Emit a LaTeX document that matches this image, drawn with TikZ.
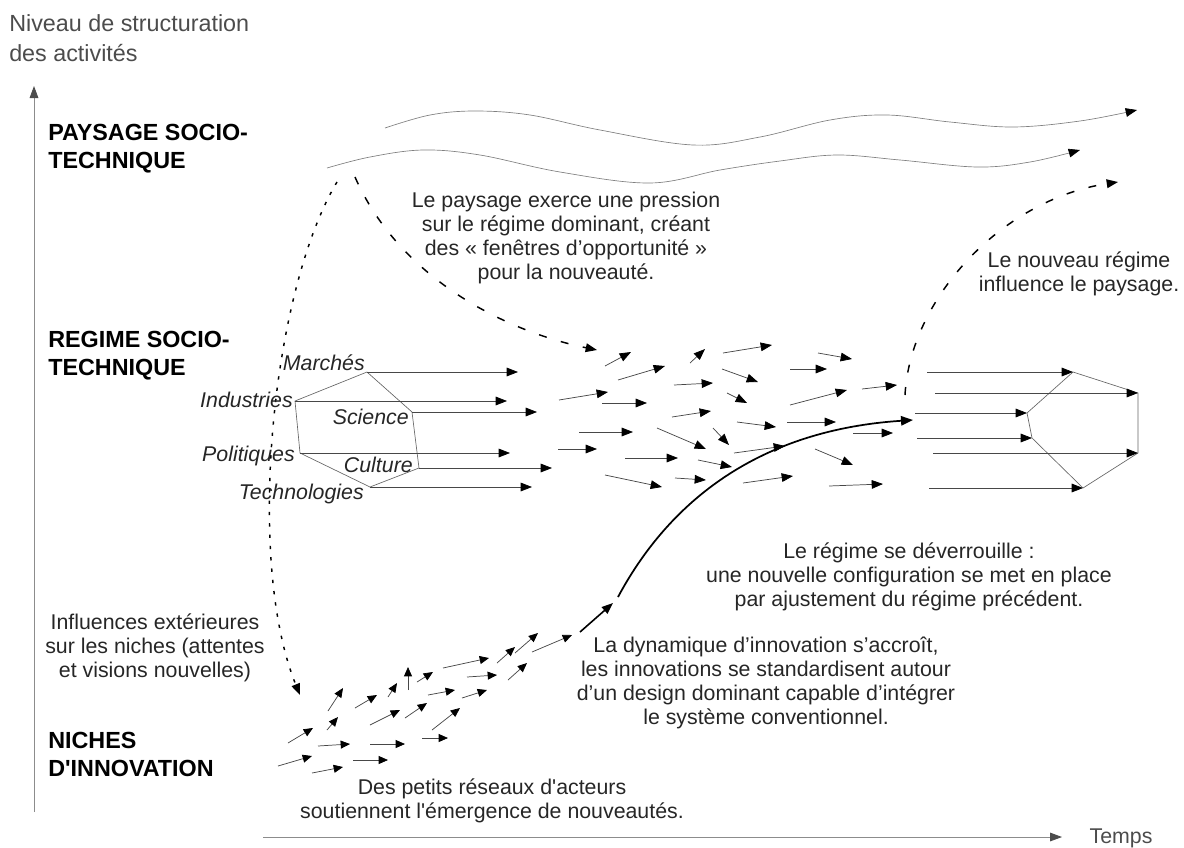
\documentclass[tikz,border=0pt]{standalone}
\usepackage{fontspec}
\setmainfont{Liberation Sans}
\usetikzlibrary{arrows.meta}
\begin{document}
\begin{tikzpicture}[x=0.75pt,y=-0.75pt,
  txt/.style={font=\fontsize{16}{17.8}\selectfont, text=black!85, align=center, inner sep=0pt},
  lvl/.style={font=\bfseries\fontsize{17.5}{21}\selectfont, align=left, anchor=west, inner sep=0pt},
  fac/.style={font=\itshape\fontsize{16}{18}\selectfont, text=black!85, inner sep=0pt},
  arr/.style={draw=black!72, line width=0.55pt, -{Triangle[length=8.5pt,width=6.5pt,color=black]}},
  sarr/.style={draw=black!72, line width=0.55pt, -{Triangle[length=7pt,width=6pt,color=black]}},
  hex/.style={draw=black!60, line width=0.5pt},
  wave/.style={draw=black!50, line width=0.5pt, -{Triangle[length=8.5pt,width=6.5pt,color=black]}},
  dsh/.style={draw=black, line width=1.1pt, dash pattern=on 6pt off 11pt, -{Triangle[length=8.5pt,width=6.5pt,color=black]}},
  dtt/.style={draw=black, line width=1.1pt, dash pattern=on 2.5pt off 6pt, -{Triangle[length=8.5pt,width=6.5pt,color=black]}},
  axis/.style={draw=black!45, line width=0.7pt, -{Triangle[length=9pt,width=6.5pt,color=black!70]}}
]
\useasboundingbox (0,0) rectangle (1184,847);

% axes
\coordinate (yb) at (34,812);
\coordinate (yt) at (34,86);
\draw[axis] (yb) -- (yt);
\coordinate (xl) at (263,837);
\coordinate (xr) at (1062,837);
\draw[axis] (xl) -- (xr);
\node[txt, text=black!70] (temps) at (1121,838) {Temps};
\node[font=\fontsize{17.5}{22.5}\selectfont, text=black!70, align=left, anchor=west, inner sep=0pt] (niv) at (9,38) {Niveau de structuration\\des activités};

% level labels
\node[lvl] (pay) at (48,149) {PAYSAGE SOCIO-\\TECHNIQUE};
\node[lvl] (reg) at (48,356) {REGIME SOCIO-\\TECHNIQUE};
\node[lvl] (nic) at (48,754) {NICHES\\D\textquotesingle INNOVATION};

% waves
\draw[wave] plot[smooth, tension=0.6] coordinates {(385,128) (430,115) (475,111) (530,115) (600,130) (693,145) (760,137) (830,120) (887,115) (950,122) (1013,127) (1080,121) (1137,110)};
\draw[wave] plot[smooth, tension=0.6] coordinates {(327,168) (370,157) (423,150) (480,155) (560,172) (650,183) (720,170) (780,161) (837,155) (900,160) (977,167) (1030,162) (1080,150)};

% texts
\node[txt] (t1) at (566,238) {Le paysage exerce une pression\\sur le régime dominant, créant\\des « fenêtres d’opportunité  »\\pour la nouveauté.};
\node[txt] (t2) at (1079,274) {Le nouveau régime\\influence le paysage.};
\node[txt] (t3) at (909,577) {Le régime se déverrouille :\\une nouvelle configuration se met en place\\par ajustement du régime précédent.};
\node[txt] (t4) at (766,683) {La dynamique d’innovation s’accroît,\\les innovations se standardisent autour\\d’un design dominant capable d’intégrer\\le système conventionnel.};
\node[txt] (t5) at (155,648) {Influences extérieures\\sur les niches (attentes\\et visions nouvelles)};
\node[txt] (t6) at (492,801) {Des petits réseaux d\textquotesingle acteurs\\soutiennent l\textquotesingle émergence de nouveautés.};

% dashed / dotted influence arrows
\coordinate (p0) at (355,177);
\coordinate (p1) at (597,350);
\draw[dsh] (p0) .. controls (398,275) and (500,330) .. (p1);
\coordinate (q0) at (337,182);
\coordinate (q1) at (300,695);
\draw[dtt] (q0) .. controls (272,290) and (245,560) .. (q1);
\coordinate (n0) at (905,395);
\coordinate (n1) at (1118,182);
\draw[dsh] (n0) .. controls (910,300) and (1000,200) .. (n1);

% left hexagon (regime)
\coordinate (hM) at (367,372);
\coordinate (hS) at (412,412);
\coordinate (hC) at (419,468);
\coordinate (hT) at (370,487);
\coordinate (hP) at (300,453);
\coordinate (hI) at (295,401);
\draw[hex] (hM) -- (hS) -- (hC) -- (hT) -- (hP) -- (hI) -- cycle;
\draw[arr] (hM) -- (518,372);
\draw[arr] (hI) -- (507,401);
\draw[arr] (hS) -- (537,412);
\draw[arr] (hP) -- (510,453);
\draw[arr] (hC) -- (552,468);
\draw[arr] (hT) -- (532,487);
\node[fac, anchor=base east] (lM) at (365,370) {Marchés};
\node[fac, anchor=base east] (lI) at (293,407) {Industries};
\node[fac, anchor=base east] (lS) at (409,424) {Science};
\node[fac, anchor=base east] (lP) at (295,461) {Politiques};
\node[fac, anchor=base east] (lC) at (413,472) {Culture};
\node[fac, anchor=base east] (lT) at (364,499) {Technologies};

% scattered arrows in the regime
\foreach \a/\b/\c/\d in {605/366/631/352, 618/380/665/366, 690/363/705/349, 723/353/772/345,
  818/353/852/359, 722/369/758/382, 790/369/827/369, 674/385/713/383, 559/400/608/392,
  602/403/647/403, 727/393/747/403, 790/405/847/390, 862/389/897/385, 672/417/711/411,
  579/432/633/432, 737/422/776/427, 787/422/836/422, 853/433/893/433, 657/428/706/449,
  713/428/729/445, 558/449/597/449, 734/453/785/446, 625/458/678/458, 698/460/732/467,
  815/449/853/465, 605/475/662/487, 675/478/706/480, 743/483/793/476, 829/486/883/484}
  \draw[arr] (\a,\b) -- (\c,\d);

% right hexagon (new regime)
\coordinate (rA) at (1073,372);
\coordinate (rB) at (1138,393);
\coordinate (rC) at (1027,413);
\coordinate (rD) at (1032,438);
\coordinate (rE) at (1138,453);
\coordinate (rF) at (1083,488);
\draw[hex] (rA) -- (rB) -- (rE) -- (rF) -- (rD) -- (rC) -- cycle;
\draw[arr] (927,372) -- (rA);
\draw[arr] (935,393) -- (rB);
\draw[arr] (915,413) -- (rC);
\draw[arr] (917,438) -- (rD);
\draw[arr] (933,453) -- (rE);
\draw[arr] (929,488) -- (rF);

% niche arrows
\foreach \a/\b/\c/\d in {278/766/312/756, 312/773/343/767, 288/743/313/728, 318/746/350/744,
  327/730/338/717, 328/711/343/688, 353/760/388/760, 355/708/377/695, 370/744/405/744,
  370/725/400/710, 388/697/397/683, 408/690/408/667, 405/718/427/703, 417/682/433/672,
  422/738/448/738, 428/695/455/690, 432/730/460/708, 443/668/489/658, 462/698/487/690,
  467/677/497/675, 497/663/515/647, 508/680/527/663, 515/653/538/633, 532/652/572/635}
  \draw[sarr] (\a,\b) -- (\c,\d);

% breakthrough trajectory
\coordinate (s0) at (580,632);
\coordinate (s1) at (613,603);
\draw[draw=black, line width=1.2pt, -{Triangle[length=8.5pt,width=6.5pt]}] (s0) -- (s1);
\coordinate (s2) at (618,597);
\coordinate (s3) at (913,420);
\draw[draw=black, line width=1.3pt, -{Triangle[length=9pt,width=7pt]}] (s2) .. controls (670,500) and (760,430) .. (s3);
\end{tikzpicture}
\end{document}
